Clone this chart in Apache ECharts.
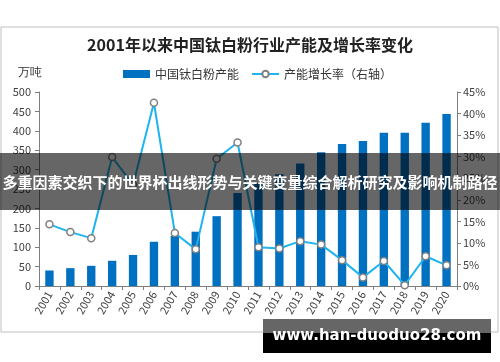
<!DOCTYPE html>
<html><head><meta charset="utf-8">
<script src="https://cdn.jsdelivr.net/npm/echarts@6/dist/echarts.min.js"></script>
<style>html,body{margin:0;padding:0;background:#fff}#c{width:500px;height:362px}</style>
</head><body><div id="c"></div>
<script>
const years = ['2001','2002','2003','2004','2005','2006','2007','2008','2009','2010','2011','2012','2013','2014','2015','2016','2017','2018','2019','2020'];
const capacity = [40,46,52,65,80,114,129,140,180,240,265,288,316,345,366,374,395,395,421,443];
const growth = [14.3,12.5,11.1,29.9,23.5,42.5,12.3,8.5,29.5,33.3,9.0,8.7,10.4,9.6,6.0,2.0,5.8,0.2,6.9,4.8];
const leftTicks = {min:0,max:500,interval:50};
const rightTicks = {min:0,max:45,interval:5};
const titleText = '2001年以来中国钛白粉行业产能及增长率变化';
const barName = '中国钛白粉产能';
const lineName = '产能增长率（右轴）';
const unitText = '万吨';
const bannerText = '多重因素交织下的世界杯出线形势与关键变量综合解析研究及影响机制路径';
const siteText = 'www.han-duoduo28.com';

const FONT = '"Noto Sans CJK SC","Noto Sans",sans-serif';
const chart = echarts.init(document.getElementById('c'), null, {renderer:'canvas'});
chart.setOption({
  animation:false,
  backgroundColor:'#fff',
  textStyle:{fontFamily:FONT},
  title:{text:titleText,left:'center',top:32,textStyle:{fontSize:16,fontWeight:'bold',color:'#222',fontFamily:FONT}},
  legend:{show:true,orient:'horizontal',top:63,left:118,itemWidth:27,itemHeight:8,itemGap:12,
    textStyle:{fontSize:12,color:'#333',fontFamily:FONT},
    data:[{name:barName,icon:'rect'},{name:lineName}]},
  grid:{left:39,right:43,top:92,bottom:76},
  xAxis:{type:'category',data:years,
    axisLine:{lineStyle:{color:'#7f7f7f'}},
    axisTick:{show:true,alignWithLabel:false,length:4,lineStyle:{color:'#7f7f7f'}},
    axisLabel:{rotate:60,fontSize:11,color:'#404040',margin:6,interval:0}},
  yAxis:[
    {type:'value',min:leftTicks.min,max:leftTicks.max,interval:leftTicks.interval,
     splitLine:{show:false},
     axisLine:{show:true,lineStyle:{color:'#7f7f7f'}},
     axisTick:{show:true,length:4,lineStyle:{color:'#7f7f7f'}},
     axisLabel:{fontSize:11,color:'#404040',margin:8}},
    {type:'value',min:rightTicks.min,max:rightTicks.max,interval:rightTicks.interval,
     splitLine:{show:false},
     axisLine:{show:true,lineStyle:{color:'#7f7f7f'}},
     axisTick:{show:true,length:4,lineStyle:{color:'#7f7f7f'}},
     axisLabel:{fontSize:11,color:'#404040',margin:6,formatter:'{value}%'}}
  ],
  series:[
    {name:barName,type:'bar',data:capacity,barWidth:'40%',itemStyle:{color:'#0070c0'}},
    {name:lineName,type:'line',yAxisIndex:1,data:growth,symbol:'circle',symbolSize:7,
     lineStyle:{color:'#1fb4ee',width:2},
     itemStyle:{color:'#ffffff',borderColor:'#808080',borderWidth:1.5}}
  ],
  graphic:[
    {type:'rect',z:-1,shape:{x:1,y:27,width:497,height:305},style:{fill:'none',stroke:'#bfbfbf',lineWidth:1}},
    {type:'text',left:18,top:67,style:{text:unitText,fontSize:12,fill:'#333',font:'12px '+FONT}},
    {type:'rect',z:100,shape:{x:0,y:153,width:500,height:57},style:{fill:'rgba(0,0,0,0.6)'}},
    {type:'text',z:101,x:250,y:182,style:{text:bannerText,fill:'#fff',font:'bold 15px '+FONT,textAlign:'center',textVerticalAlign:'middle'}},
    {type:'rect',z:100,shape:{x:263,y:319,width:228,height:14},style:{fill:'#666'}},
    {type:'rect',z:100,shape:{x:263,y:333,width:228,height:20},style:{fill:'#000'}},
    {type:'text',z:101,x:377,y:336,style:{text:siteText,fill:'#fff',font:'bold 15px "DejaVu Sans",sans-serif',textAlign:'center',textVerticalAlign:'middle'}}
  ]
});
</script></body></html>
